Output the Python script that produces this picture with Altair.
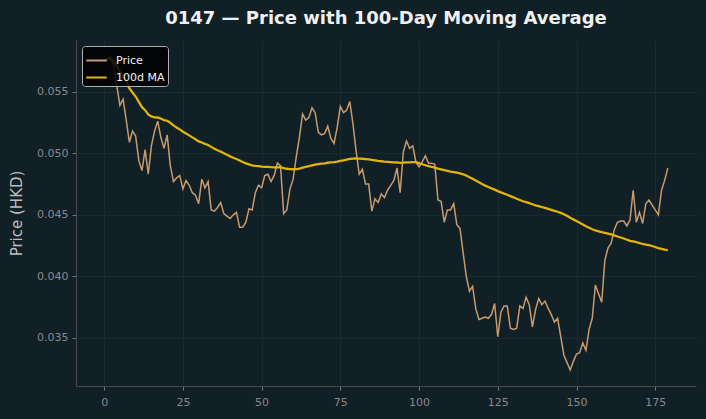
import altair as alt
import pandas as pd

# Daily closing prices of 0147 (HKD), one value per trading day
price = [
    0.0575, 0.0577, 0.0578, 0.0571, 0.0555, 0.0539, 0.0544, 0.0527, 0.0509, 0.0518,
    0.0514, 0.0494, 0.0486, 0.0503, 0.0483, 0.0506, 0.0518, 0.0526, 0.0513, 0.0504,
    0.0515, 0.0490, 0.0477, 0.0480, 0.0482, 0.0471, 0.0478, 0.0474, 0.0468, 0.0466,
    0.0459, 0.0479, 0.0472, 0.0477, 0.0454, 0.0453, 0.0456, 0.0460, 0.0451, 0.0449,
    0.0447, 0.0450, 0.0452, 0.0440, 0.0440, 0.0444, 0.0455, 0.0454, 0.0468, 0.0474,
    0.0472, 0.0482, 0.0483, 0.0477, 0.0482, 0.0492, 0.0490, 0.0451, 0.0454, 0.0471,
    0.0479, 0.0497, 0.0513, 0.0532, 0.0527, 0.0529, 0.0537, 0.0533, 0.0517, 0.0515,
    0.0516, 0.0522, 0.0512, 0.0508, 0.0521, 0.0538, 0.0533, 0.0535, 0.0542, 0.0524,
    0.0502, 0.0483, 0.0487, 0.0475, 0.0475, 0.0453, 0.0463, 0.0460, 0.0467, 0.0464,
    0.0470, 0.0474, 0.0478, 0.0488, 0.0468, 0.0501, 0.0510, 0.0504, 0.0506, 0.0493,
    0.0489, 0.0493, 0.0498, 0.0492, 0.0492, 0.0491, 0.0462, 0.0461, 0.0444, 0.0454,
    0.0454, 0.0459, 0.0442, 0.0439, 0.0419, 0.0400, 0.0388, 0.0392, 0.0374, 0.0365,
    0.0366, 0.0367, 0.0366, 0.0369, 0.0378, 0.0351, 0.0371, 0.0376, 0.0376, 0.0358,
    0.0357, 0.0358, 0.0376, 0.0374, 0.0383, 0.0377, 0.0359, 0.0373, 0.0382, 0.0377,
    0.0380, 0.0374, 0.0369, 0.0363, 0.0366, 0.0351, 0.0336, 0.0330, 0.0324, 0.0331,
    0.0337, 0.0338, 0.0346, 0.0340, 0.0357, 0.0366, 0.0393, 0.0386, 0.0379, 0.0413,
    0.0423, 0.0427, 0.0438, 0.0444, 0.0445, 0.0445, 0.0441, 0.0446, 0.0470, 0.0444,
    0.0452, 0.0443, 0.0459, 0.0462, 0.0458, 0.0454, 0.0450, 0.0470, 0.0478, 0.0488,
]
day = list(range(len(price)))

series_names = ["Price", "100d MA"]
series_colors = ["#c89b6d", "#e0b40a"]
x_ticks = [0, 25, 50, 75, 100, 125, 150, 175]
y_ticks = [0.035, 0.040, 0.045, 0.050, 0.055]

df = pd.DataFrame({"day": day, "Price": price})

BG = "#111f26"

base = (
    alt.Chart(df)
    .transform_window(
        **{"100d MA": "mean(Price)"}, frame=[-99, 0], sort=[alt.SortField("day")]
    )
    .transform_fold(series_names, as_=["series", "value"])
)

x_enc = alt.X(
    "day:Q",
    title=None,
    scale=alt.Scale(domain=[-8.95, 187.95], nice=False, zero=False),
    axis=alt.Axis(values=x_ticks, format="d"),
)
y_enc = alt.Y(
    "value:Q",
    title="Price (HKD)",
    scale=alt.Scale(domain=[0.0311, 0.0592], nice=False, zero=False),
    axis=alt.Axis(values=y_ticks, format=".3f"),
)
color_enc = alt.Color(
    "series:N",
    scale=alt.Scale(domain=series_names, range=series_colors),
    title=None,
    legend=alt.Legend(
        orient="top-left",
        offset=6,
        fillColor="rgba(0,0,0,0.85)",
        strokeColor="#b0b0b0",
        cornerRadius=3,
        padding=3,
        symbolType="stroke",
        symbolSize=420,
        symbolStrokeWidth=2,
        labelColor="#f0f0f0",
        labelFontSize=11,
        labelFont="DejaVu Sans",
        labelOffset=8,
        rowPadding=-3,
        symbolOffset=0,
    ),
)

price_line = (
    base.transform_filter(alt.datum.series == "Price")
    .mark_line(strokeWidth=1.5)
    .encode(x=x_enc, y=y_enc, color=color_enc)
)
ma_line = (
    base.transform_filter(alt.datum.series == "100d MA")
    .mark_line(strokeWidth=2.3)
    .encode(x=x_enc, y=y_enc, color=color_enc)
)

chart = (
    alt.layer(price_line, ma_line)
    .properties(
        width=620,
        height=346,
        background=BG,
        autosize=alt.AutoSizeParams(type="none"),
        padding={"left": 76, "top": 40, "right": 10, "bottom": 33},
        title=alt.TitleParams(
            "0147 — Price with 100-Day Moving Average",
            font="DejaVu Sans",
            fontSize=18,
            fontWeight="bold",
            color="#f0f0f0",
            anchor="middle",
            frame="group",
            offset=12,
        ),
    )
    .configure_view(stroke=None, fill=BG)
    .configure_axis(
        domainColor="#4a4a4a",
        domainWidth=1,
        gridColor="#1b2a31",
        gridWidth=1,
        tickColor="#777777",
        tickSize=4,
        labelColor="#8a8a8a",
        labelFont="DejaVu Sans",
        labelFontSize=11,
        titleColor="#bdbdbd",
        titleFont="DejaVu Sans",
        titleFontSize=15,
        titleFontWeight="normal",
    )
    .configure_axisX(labelPadding=6)
    .configure_axisY(labelPadding=4, titlePadding=12)
)

chart.save("out.html", embed_options={"renderer": "svg", "actions": False})
